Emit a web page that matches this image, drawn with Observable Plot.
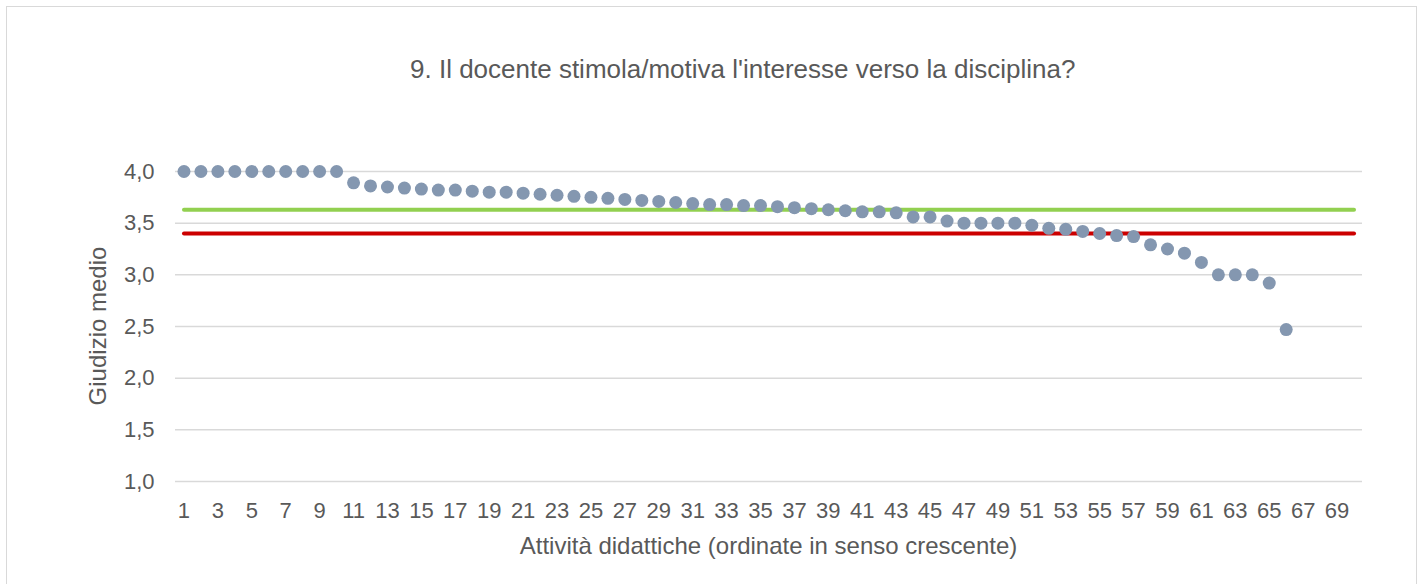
<!DOCTYPE html>
<html>
<head>
<meta charset="utf-8">
<script src="https://cdn.jsdelivr.net/npm/d3@7"></script>
<script src="https://cdn.jsdelivr.net/npm/@observablehq/plot@0.6"></script>
<style>
  html, body { margin: 0; padding: 0; background: #ffffff; }
  #wrap { position: relative; width: 1425px; height: 584px; overflow: hidden; font-family: "Liberation Sans", Arial, sans-serif; color: #595959; }
  #frame { position: absolute; left: 6px; top: 6px; width: 1411px; height: 620px; border: 1.5px solid #d9d9d9; box-sizing: border-box; }
  #chart { position: absolute; left: 0; top: 0; }
  #title { position: absolute; left: 410px; top: 56px; font-size: 26px; line-height: 26px; white-space: nowrap; }
  #xlabel { position: absolute; left: 0; width: 1537px; top: 534px; text-align: center; font-size: 24px; line-height: 24px; white-space: nowrap; }
  #ylabel { position: absolute; left: 98px; top: 326px; font-size: 24px; line-height: 24px; white-space: nowrap; transform: translate(-50%, -50%) rotate(-90deg); }
</style>
</head>
<body>
<div id="wrap">
  <div id="frame"></div>
  <div id="chart"></div>
  <div id="title">9. Il docente stimola/motiva l'interesse verso la disciplina?</div>
  <div id="xlabel">Attività didattiche (ordinate in senso crescente)</div>
  <div id="ylabel">Giudizio medio</div>
</div>
<script>
// Activities (ordered), mean scores
const activityIds = d3.range(1, 67);
const meanScores = [
  4.00, 4.00, 4.00, 4.00, 4.00, 4.00, 4.00, 4.00, 4.00, 4.00,
  3.89, 3.86, 3.85, 3.84, 3.83, 3.82, 3.82, 3.81, 3.80, 3.80,
  3.79, 3.78, 3.77, 3.76, 3.75, 3.74, 3.73, 3.72, 3.71, 3.70,
  3.69, 3.68, 3.68, 3.67, 3.67, 3.66, 3.65, 3.64, 3.63, 3.62,
  3.61, 3.61, 3.60, 3.56, 3.56, 3.52, 3.50, 3.50, 3.50, 3.50,
  3.48, 3.45, 3.44, 3.42, 3.40, 3.38, 3.37, 3.29, 3.25, 3.21,
  3.12, 3.00, 3.00, 3.00, 2.92, 2.47
];
// Reference lines
const greenRefValue = 3.63;
const redRefValue = 3.40;
const refLineSpan = [1, 70];
// Axis ticks
const xTickLabels = d3.range(1, 70, 2);
const yTickLabels = [1.0, 1.5, 2.0, 2.5, 3.0, 3.5, 4.0];

const points = activityIds.map((id, i) => ({ id, score: meanScores[i] }));
const greenLine = refLineSpan.map(x => ({ x, y: greenRefValue }));
const redLine = refLineSpan.map(x => ({ x, y: redRefValue }));

const chart = Plot.plot({
  width: 1425,
  height: 584,
  marginLeft: 175,
  marginRight: 63,
  marginTop: 171,
  marginBottom: 103,
  style: { fontFamily: "'Liberation Sans', Arial, sans-serif", fontSize: "22px", color: "#595959", background: "transparent", overflow: "visible" },
  x: { type: "linear", domain: [0.5, 70.5] },
  y: { domain: [1, 4] },
  marks: [
    Plot.gridY(yTickLabels, { stroke: "#d9d9d9", strokeOpacity: 1, strokeWidth: 1.5 }),
    Plot.axisY(yTickLabels, { tickSize: 0, tickPadding: 21, label: null, tickFormat: d => d.toFixed(1).replace(".", ","), fill: "#595959" }),
    Plot.axisX(xTickLabels, { tickSize: 0, tickPadding: 21, label: null, tickFormat: d => String(d), fill: "#595959" }),
    Plot.line(greenLine, { x: "x", y: "y", stroke: "#92d050", strokeWidth: 4, strokeLinecap: "round" }),
    Plot.line(redLine, { x: "x", y: "y", stroke: "#cc0000", strokeWidth: 4, strokeLinecap: "round" }),
    Plot.dot(points, { x: "id", y: "score", r: 6.5, fill: "#8497b0", stroke: "none" })
  ]
});
document.getElementById("chart").appendChild(chart);
</script>
</body>
</html>
